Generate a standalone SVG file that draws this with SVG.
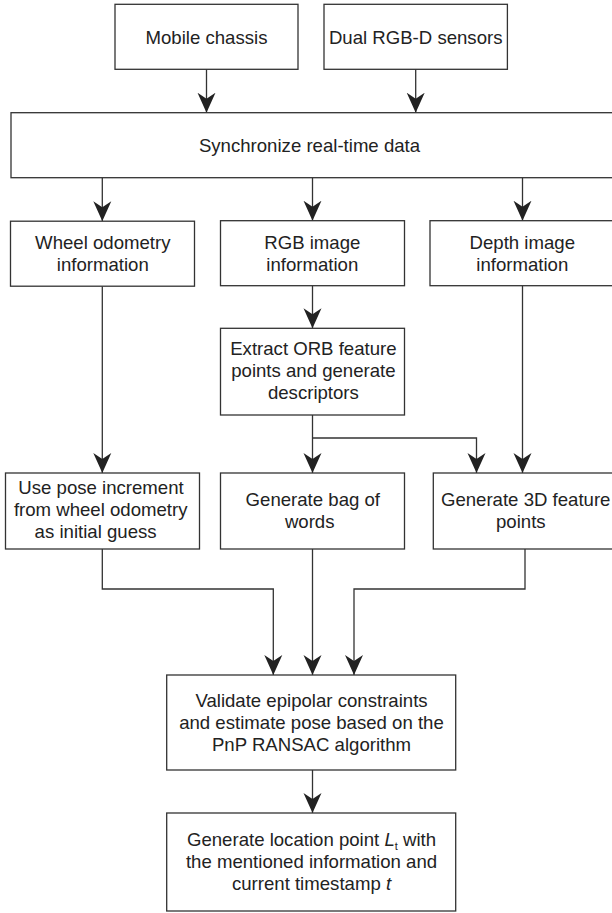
<svg xmlns="http://www.w3.org/2000/svg" width="612" height="913" viewBox="0 0 612 913">
<defs>
<style>
.box{fill:#fff;stroke:#333;stroke-width:1.3}
.t{font-family:"Liberation Sans",Arial,Helvetica,sans-serif;font-size:18.6px;fill:#222;text-anchor:middle}
.c{fill:none;stroke:#333;stroke-width:1.3}
</style>
<marker id="ah" viewBox="0 0 20 20" refX="20" refY="10" markerWidth="20" markerHeight="20" markerUnits="userSpaceOnUse" orient="auto">
<path d="M0,1 L20,10 L0,19 L6,10 Z" fill="#222"/>
</marker>
</defs>
<rect width="612" height="913" fill="#fff"/>

<g id="connectors">
<path class="c" d="M206.5,69.3 V112.7" marker-end="url(#ah)"/>
<path class="c" d="M415.7,69.3 V112.7" marker-end="url(#ah)"/>
<path class="c" d="M102.3,177.7 V221.2" marker-end="url(#ah)"/>
<path class="c" d="M312.5,177.7 V220.7" marker-end="url(#ah)"/>
<path class="c" d="M522.5,177.7 V220.7" marker-end="url(#ah)"/>
<path class="c" d="M312.5,285.7 V328.3" marker-end="url(#ah)"/>
<path class="c" d="M102.3,286.3 V473" marker-end="url(#ah)"/>
<path class="c" d="M312.5,415 V473" marker-end="url(#ah)"/>
<path class="c" d="M312.5,438 H476.5 V473" marker-end="url(#ah)"/>
<path class="c" d="M522.5,285.7 V473" marker-end="url(#ah)"/>
<path class="c" d="M102.3,549 V589 H273.3 V675" marker-end="url(#ah)"/>
<path class="c" d="M312.5,549 V675" marker-end="url(#ah)"/>
<path class="c" d="M525,549 V589 H354 V675" marker-end="url(#ah)"/>
<path class="c" d="M312.5,770 V813" marker-end="url(#ah)"/>
</g>

<g id="mobile-chassis">
<rect class="box" x="115" y="4.3" width="183" height="65"/>
<text class="t" x="206.5" y="43.5">Mobile chassis</text>
</g>
<g id="dual-rgbd">
<rect class="box" x="324" y="4.3" width="183.4" height="65"/>
<text class="t" x="415.7" y="43.5">Dual RGB-D sensors</text>
</g>
<g id="synchronize">
<rect class="box" x="11" y="112.7" width="610" height="65"/>
<text class="t" x="309.5" y="152">Synchronize real-time data</text>
</g>
<g id="wheel-odometry">
<rect class="box" x="10.5" y="221.2" width="184" height="65"/>
<text class="t" x="102.8" y="249.3">Wheel odometry</text>
<text class="t" x="102.8" y="271.3">information</text>
</g>
<g id="rgb-image">
<rect class="box" x="220.5" y="220.7" width="184" height="65"/>
<text class="t" x="312.3" y="248.8">RGB image</text>
<text class="t" x="312.3" y="270.8">information</text>
</g>
<g id="depth-image">
<rect class="box" x="430" y="220.7" width="190" height="65"/>
<text class="t" x="522.3" y="248.8">Depth image</text>
<text class="t" x="522.3" y="270.8">information</text>
</g>
<g id="extract-orb">
<rect class="box" x="220.5" y="328.3" width="184" height="86.7"/>
<text class="t" x="313.4" y="354.5">Extract ORB feature</text>
<text class="t" x="313.4" y="376.7">points and generate</text>
<text class="t" x="313.4" y="398.9">descriptors</text>
</g>
<g id="use-pose">
<rect class="box" x="5.5" y="473" width="194" height="76"/>
<text class="t" x="101" y="493.6">Use pose increment</text>
<text class="t" x="100.7" y="515.8">from wheel odometry</text>
<text class="t" x="95.6" y="538">as initial guess</text>
</g>
<g id="bag-of-words">
<rect class="box" x="220.5" y="473" width="184" height="76"/>
<text class="t" x="312.8" y="505.5">Generate bag of</text>
<text class="t" x="309.7" y="527.7">words</text>
</g>
<g id="feature-3d">
<rect class="box" x="433.3" y="473" width="190" height="76"/>
<text class="t" x="525.7" y="505.5">Generate 3D feature</text>
<text class="t" x="520.8" y="527.7">points</text>
</g>
<g id="validate">
<rect class="box" x="166.7" y="675" width="289" height="95"/>
<text class="t" x="311.5" y="707">Validate epipolar constraints</text>
<text class="t" x="311.5" y="729">and estimate pose based on the</text>
<text class="t" x="311.5" y="751">PnP RANSAC algorithm</text>
</g>
<g id="location-point">
<rect class="box" x="166.7" y="813" width="289" height="98"/>
<text class="t" x="311.5" y="846">Generate location point <tspan font-style="italic">L</tspan><tspan font-size="11" dy="4">t</tspan><tspan dy="-4"> with</tspan></text>
<text class="t" x="311.5" y="868">the mentioned information and</text>
<text class="t" x="311.5" y="890">current timestamp <tspan font-style="italic">t</tspan></text>
</g>
</svg>
